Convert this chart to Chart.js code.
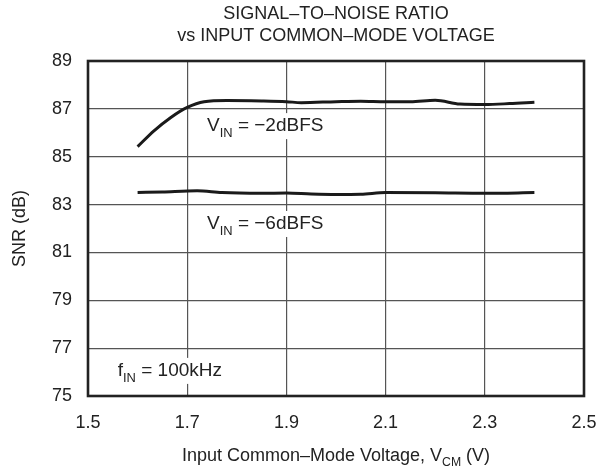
<!DOCTYPE html>
<html><head><meta charset="utf-8">
<script src="https://cdn.jsdelivr.net/npm/chart.js@4/dist/chart.umd.min.js"></script>
<style>html,body{margin:0;padding:0;background:#fff}#wrap{width:599px;height:469px}</style>
</head><body><div id="wrap"><canvas id="c" width="599" height="469"></canvas></div>
<script>
const xTicks = [1.5, 1.7, 1.9, 2.1, 2.3, 2.5];
const yTicks = [75, 77, 79, 81, 83, 85, 87, 89];
const vcm2 = [1.6, 1.633, 1.667, 1.70, 1.734, 1.78, 1.85, 1.9, 1.93, 2.0, 2.05, 2.1, 2.15, 2.2, 2.25, 2.3, 2.35, 2.4];
const snr2 = [85.42, 86.08, 86.64, 87.06, 87.3, 87.35, 87.33, 87.3, 87.26, 87.3, 87.32, 87.3, 87.3, 87.36, 87.2, 87.18, 87.22, 87.28];
const vcm6 = [1.6, 1.65, 1.72, 1.77, 1.85, 1.9, 1.95, 2.0, 2.05, 2.1, 2.2, 2.3, 2.4];
const snr6 = [83.5, 83.53, 83.58, 83.5, 83.47, 83.48, 83.44, 83.42, 83.43, 83.5, 83.49, 83.47, 83.5];

const FONT = '"Liberation Sans", Arial, Helvetica, sans-serif';
const FS = 18;
const SUB = 0.68;
const toPts = (xs, ys) => xs.map((x, i) => ({x: x, y: ys[i]}));

function measure(ctx, parts, size) {
  return parts.map(p => { ctx.font = (p[1] ? size*SUB : size) + 'px ' + FONT; return ctx.measureText(p[0]).width; });
}
function subText(ctx, parts, x, y, size, align) {
  const widths = measure(ctx, parts, size);
  const total = widths.reduce((a, b) => a + b, 0);
  let cx = align === 'center' ? x - total/2 : x;
  ctx.textBaseline = 'alphabetic';
  ctx.textAlign = 'left';
  parts.forEach((p, i) => {
    ctx.font = (p[1] ? size*SUB : size) + 'px ' + FONT;
    ctx.fillText(p[0], cx, p[1] ? y + size*0.3 : y);
    cx += widths[i];
  });
  return total;
}

const labels = [
  {x: 1.74, y: 86.07, parts: [['V', false], ['IN', true], [' = \u22122dBFS', false]]},
  {x: 1.74, y: 81.98, parts: [['V', false], ['IN', true], [' = \u22126dBFS', false]]},
  {x: 1.56, y: 75.84, parts: [['f', false], ['IN', true], [' = 100kHz', false]]}
];

const textPlugin = {
  id: 'textPlugin',
  afterDraw(chart) {
    const ctx = chart.ctx;
    const xs = chart.scales.x, ys = chart.scales.y;
    const a = chart.chartArea;
    ctx.save();
    ctx.fillStyle = '#222';
    ctx.font = FS + 'px ' + FONT;
    ctx.textAlign = 'center';
    ctx.textBaseline = 'alphabetic';
    const cx = (a.left + a.right) / 2;
    ctx.fillText('SIGNAL\u2013TO\u2013NOISE RATIO', cx, 19);
    ctx.fillText('vs INPUT COMMON\u2013MODE VOLTAGE', cx, 41);
    subText(ctx, [['Input Common\u2013Mode Voltage, V', false], ['CM', true], [' (V)', false]], cx, 461, FS, 'center');
    ctx.save();
    ctx.translate(20, (a.top + a.bottom) / 2);
    ctx.rotate(-Math.PI/2);
    ctx.font = FS + 'px ' + FONT;
    ctx.textAlign = 'center';
    ctx.textBaseline = 'middle';
    ctx.fillText('SNR (dB)', 0, 0);
    ctx.restore();
    labels.forEach(l => {
      const px = xs.getPixelForValue(l.x), py = ys.getPixelForValue(l.y);
      const size = 19;
      const w = measure(ctx, l.parts, size).reduce((s, v) => s + v, 0);
      ctx.fillStyle = '#fff';
      ctx.fillRect(px - 4, py - 18, w + 8, 26);
      ctx.fillStyle = '#222';
      subText(ctx, l.parts, px, py, size, 'left');
    });
    ctx.strokeStyle = '#222';
    ctx.lineWidth = 2.6;
    ctx.strokeRect(a.left, a.top, a.right - a.left, a.bottom - a.top);
    ctx.restore();
  }
};

new Chart(document.getElementById('c'), {
  type: 'line',
  data: {
    datasets: [
      {data: toPts(vcm2, snr2), borderColor: '#1a1a1a', borderWidth: 3, pointRadius: 0, cubicInterpolationMode: 'monotone', fill: false},
      {data: toPts(vcm6, snr6), borderColor: '#1a1a1a', borderWidth: 3, pointRadius: 0, cubicInterpolationMode: 'monotone', fill: false}
    ]
  },
  options: {
    responsive: false,
    animation: false,
    events: [],
    layout: {padding: {left: 0, right: 0, top: 61, bottom: 0}},
    plugins: {legend: {display: false}, title: {display: false}, tooltip: {enabled: false}},
    scales: {
      x: {
        type: 'linear', min: 1.5, max: 2.5,
        afterBuildTicks: s => { s.ticks = xTicks.map(v => ({value: v})); },
        afterFit: s => { s.height = 73; s.paddingRight = 15; s.paddingLeft = 0; },
        grid: {color: '#555', lineWidth: 1.2, drawTicks: false},
        border: {display: false},
        ticks: {color: '#222', font: {family: FONT, size: FS}, padding: 16, maxRotation: 0, autoSkip: false, callback: v => v.toFixed(1)}
      },
      y: {
        min: 75, max: 89,
        afterBuildTicks: s => { s.ticks = yTicks.map(v => ({value: v})); },
        afterFit: s => { s.width = 88; s.paddingTop = 0; s.paddingBottom = 0; },
        grid: {color: '#555', lineWidth: 1.2, drawTicks: false},
        border: {display: false},
        ticks: {color: '#222', font: {family: FONT, size: FS}, padding: 16, autoSkip: false, callback: v => String(v)}
      }
    }
  },
  plugins: [textPlugin]
});
</script></body></html>
